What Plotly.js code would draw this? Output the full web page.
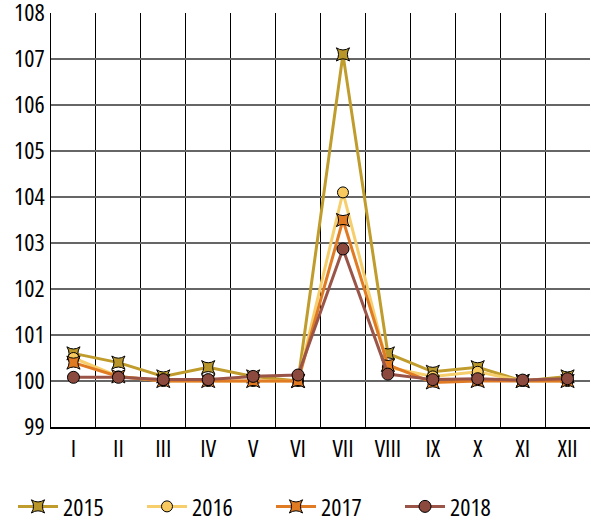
<!DOCTYPE html>
<html><head><meta charset="utf-8">
<script src="https://cdn.plot.ly/plotly-3.0.1.min.js"></script>
<style>html,body{margin:0;padding:0;background:#fff}#chart{width:591px;height:523px}
#chart text{font-stretch:condensed !important;}</style>
</head><body><div id="chart"></div>
<script>
const months = ["I","II","III","IV","V","VI","VII","VIII","IX","X","XI","XII"];
const v2015 = [100.6,100.4,100.1,100.3,100.1,100.0,107.1,100.6,100.2,100.3,100.0,100.1];
const v2016 = [100.5,100.1,100.0,100.0,100.0,100.0,104.1,100.3,100.1,100.2,100.0,100.0];
const v2017 = [100.4,100.1,100.0,100.0,100.0,100.0,103.5,100.35,99.97,100.0,100.0,100.0];
const v2018 = [100.08,100.08,100.03,100.03,100.1,100.13,102.87,100.15,100.03,100.05,100.02,100.05];
const names = ["2015","2016","2017","2018"];
const lineColors = ["#C09C2C","#F6CF6C","#E07B24","#9A5548"];
const markerColors = ["#B8962A","#F7C95F","#E07B24","#8C4A3E"];
const symbols = ["star-square","circle","star-square","circle"];
const sizes = [12,11,12,12];
const series = [v2015,v2016,v2017,v2018];
const font = "Open Sans, sans-serif";
const traces = series.map((v,i)=>({
  x: months, y: v, name: names[i], type:"scatter", mode:"lines+markers",
  line:{color:lineColors[i], width:3},
  marker:{symbol:symbols[i], size:sizes[i], color:markerColors[i], line:{color:"#000", width:1}}
}));
const layout = {
  width:591, height:523,
  margin:{l:51, r:1, t:13, b:96, autoexpand:false},
  paper_bgcolor:"#fff", plot_bgcolor:"#fff",
  font:{family:font, size:24, color:"#000"},
  showlegend:true,
  legend:{orientation:"h", xref:"container", yref:"container", x:0.022, xanchor:"left",
    y:0.031, yanchor:"middle",
    font:{family:font, size:24, color:"#000"}, entrywidth:74, itemwidth:40},
  xaxis:{type:"category", tickson:"boundaries", showgrid:true, gridcolor:"#000", gridwidth:1,
    showline:true, linecolor:"#000", linewidth:1.5, ticks:"", ticklen:0, mirror:false,
    tickfont:{family:font, size:24}, range:[-0.5,11.5], zeroline:false, ticklabeloverflow:"allow"},
  yaxis:{range:[99,108], dtick:1, showgrid:true, gridcolor:"#666", gridwidth:1.5,
    showline:true, linecolor:"#000", linewidth:1.5, ticks:"", zeroline:false,
    tickfont:{family:font, size:24}, ticklabeloverflow:"allow"}
};
Plotly.newPlot("chart", traces, layout, {displayModeBar:false, staticPlot:true});
</script></body></html>
